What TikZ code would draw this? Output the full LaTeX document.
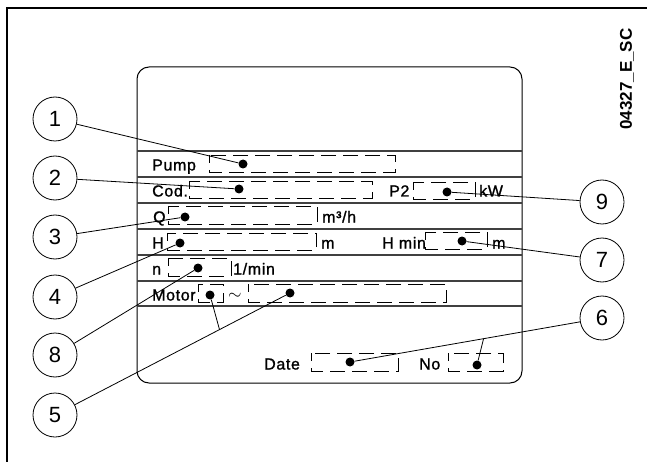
\documentclass[tikz,border=0pt]{standalone}
\usepackage{fontspec}
\setmainfont{Liberation Sans}
\newfontfamily\platefont[LetterSpace=4,FakeBold=1.2]{Liberation Sans}
\usetikzlibrary{calc}

\begin{document}
\begin{tikzpicture}[x=1pt,y=-1pt,
  callout/.style={draw,circle,line width=0.8pt,minimum size=44pt,inner sep=0pt,font=\fontsize{22}{22}\selectfont},
  dot/.style={circle,fill,inner sep=0pt,minimum size=9pt},
  field/.style={line width=0.8pt,dash pattern=on 15pt off 7pt,dash phase=7pt},
  lbl/.style={anchor=base west,inner sep=0pt,font=\platefont\fontsize{16}{16}\selectfont},
  lead/.style={line width=0.8pt}]
\useasboundingbox (0,0) rectangle (647,462);
\draw[line width=2pt] (6.5,462)--(6.5,8)--(647,8);
\node[rotate=90,font=\bfseries\fontsize{17}{17}\selectfont] (code) at (627,79) {04327\_E\_SC};
% plate
\draw[line width=1pt,rounded corners=12pt] (137,67) rectangle (522,383);
\foreach \y in {151,177,203,229,255,281,306}
  \draw[line width=1.3pt,black!75] (137,\y)--(522,\y);
% texts
\node[lbl] (pump) at (152,170.5) {Pump};
\node[lbl] (cod) at (152,196.5) {Cod.};
\node[lbl] (ptwo) at (389,196.5) {P2};
\node[lbl] (kw) at (479,196.5) {kW};
\node[lbl] (q) at (153,222.5) {Q};
\node[lbl] (flow) at (322,222.5) {m³/h};
\node[lbl] (h) at (152,248.5) {H};
\node[lbl] (hm) at (321,248.5) {m};
\node[lbl] (hmin) at (382,248.5) {H min};
\node[lbl] (hminm) at (492,248.5) {m};
\node[lbl] (n) at (152,274.5) {n};
\node[lbl] (rpm) at (233,274.5) {1/min};
\node[lbl] (motor) at (152,300.5) {Motor};
\node[lbl] (ac) at (228,299) {$\sim$};
\node[lbl] (date) at (264,369.5) {Date};
\node[lbl] (no) at (419,369.5) {No};
% fields
\draw[field] (209,155) rectangle (395,172);
\draw[field] (189,181) rectangle (372,198);
\draw[field] (413,182) rectangle (475,199);
\draw[field] (168,206) rectangle (317,224);
\draw[field] (167,233) rectangle (316,250);
\draw[field] (425,232) rectangle (487,249);
\draw[field] (168,258) rectangle (231,276);
\draw[field] (198,284) rectangle (223,302);
\draw[field] (248,284) rectangle (446,302);
\draw[field] (311,353) rectangle (398,371);
\draw[field] (448,353) rectangle (503,371);
% dots
\node[dot] (d1) at (243,164) {};
\node[dot] (d2) at (239,189) {};
\node[dot] (d3) at (185,217) {};
\node[dot] (d4) at (180,243) {};
\node[dot] (d8) at (198,268) {};
\node[dot] (d5a) at (210,295) {};
\node[dot] (d5b) at (290,293) {};
\node[dot] (d9) at (447,192) {};
\node[dot] (d7) at (462,241) {};
\node[dot] (d6a) at (350,362) {};
\node[dot] (d6b) at (477,365) {};
% callouts
\foreach \n/\y in {1/119,2/178,3/237,4/297,8/355,5/415}
  \node[callout] (c\n) at (55,\y) {\n};
\foreach \n/\y in {9/202,7/260,6/318}
  \node[callout] (c\n) at (602,\y) {\n};
\foreach \n in {1,2,3,4,8,9,7}
  \draw[lead] (c\n)--(d\n);
\draw[lead] (c5)--(d5b);
\coordinate (j5) at ($(c5)!0.7!(d5b)$);
\draw[lead] (j5)--(d5a);
\draw[lead] (c6)--(d6a);
\coordinate (j6) at ($(c6)!0.47!(d6a)$);
\draw[lead] (j6)--(d6b);
\end{tikzpicture}
\end{document}
